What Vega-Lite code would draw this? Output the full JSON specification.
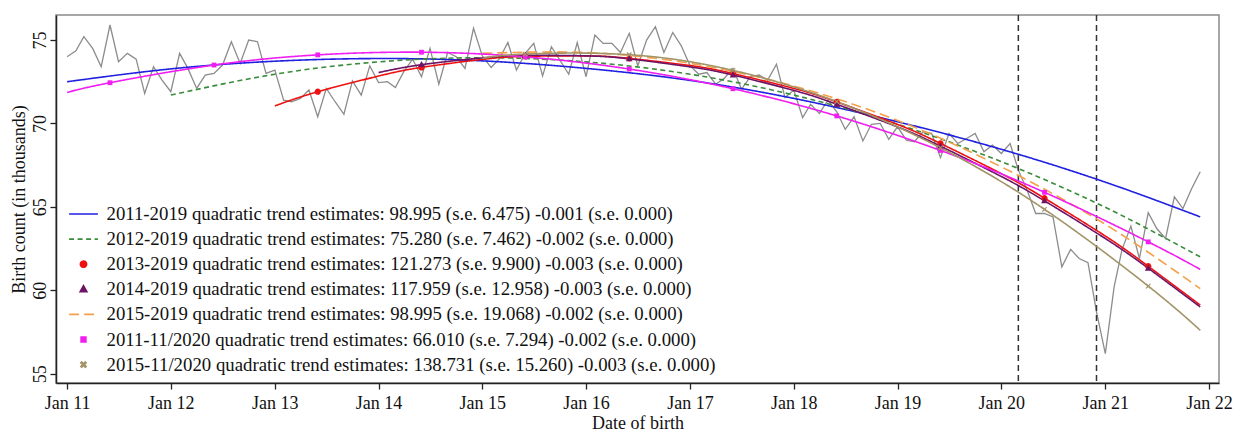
{
  "$schema": "https://vega.github.io/schema/vega-lite/v6.json",
  "width": 1163,
  "height": 368,
  "autosize": {"type": "none"},
  "padding": {"left": 56, "top": 15, "right": 17, "bottom": 48},
  "background": "white",
  "config": {
    "font": "Liberation Serif",
    "view": {"stroke": "#8a8a8a", "strokeWidth": 1.5},
    "axis": {
      "labelFont": "Liberation Serif", "titleFont": "Liberation Serif",
      "labelFontSize": 18, "titleFontSize": 18, "titleFontWeight": "normal",
      "labelColor": "#111", "titleColor": "#111",
      "domainColor": "#222", "tickColor": "#222", "domainWidth": 1.5, "tickWidth": 1.3,
      "tickSize": 6, "grid": false
    },
    "legend": {
      "labelFont": "Liberation Serif", "labelFontSize": 18.8, "labelColor": "#111",
      "labelLimit": 2000, "symbolSize": 576, "symbolStrokeWidth": 1.6,
      "rowPadding": 2.1, "labelOffset": 10, "padding": 0
    }
  },
  "datasets": {
    "births": [
      {"d":"2011/01/01","v":74.0},{"d":"2011/02/01","v":74.35},{"d":"2011/03/01","v":75.2},{"d":"2011/04/01","v":74.5},{"d":"2011/05/01","v":73.4},{"d":"2011/06/01","v":75.9},{"d":"2011/07/01","v":73.7},{"d":"2011/08/01","v":74.2},{"d":"2011/09/01","v":73.85},{"d":"2011/10/01","v":71.8},{"d":"2011/11/01","v":73.4},{"d":"2011/12/01","v":72.6},
      {"d":"2012/01/01","v":71.9},{"d":"2012/02/01","v":74.2},{"d":"2012/03/01","v":73.3},{"d":"2012/04/01","v":72.1},{"d":"2012/05/01","v":72.9},{"d":"2012/06/01","v":73.0},{"d":"2012/07/01","v":73.5},{"d":"2012/08/01","v":74.9},{"d":"2012/09/01","v":73.6},{"d":"2012/10/01","v":75.0},{"d":"2012/11/01","v":74.9},{"d":"2012/12/01","v":73.0},
      {"d":"2013/01/01","v":73.2},{"d":"2013/02/01","v":71.4},{"d":"2013/03/01","v":71.3},{"d":"2013/04/01","v":71.5},{"d":"2013/05/01","v":72.0},{"d":"2013/06/01","v":70.4},{"d":"2013/07/01","v":72.1},{"d":"2013/08/01","v":71.3},{"d":"2013/09/01","v":70.55},{"d":"2013/10/01","v":72.55},{"d":"2013/11/01","v":71.7},{"d":"2013/12/01","v":73.45},
      {"d":"2014/01/01","v":72.45},{"d":"2014/02/01","v":72.5},{"d":"2014/03/01","v":72.15},{"d":"2014/04/01","v":73.15},{"d":"2014/05/01","v":73.85},{"d":"2014/06/01","v":72.8},{"d":"2014/07/01","v":74.5},{"d":"2014/08/01","v":72.35},{"d":"2014/09/01","v":74.25},{"d":"2014/10/01","v":74.0},{"d":"2014/11/01","v":73.3},{"d":"2014/12/01","v":75.7},
      {"d":"2015/01/01","v":74.05},{"d":"2015/02/01","v":73.35},{"d":"2015/03/01","v":73.85},{"d":"2015/04/01","v":74.85},{"d":"2015/05/01","v":73.2},{"d":"2015/06/01","v":74.2},{"d":"2015/07/01","v":74.8},{"d":"2015/08/01","v":72.85},{"d":"2015/09/01","v":74.6},{"d":"2015/10/01","v":73.8},{"d":"2015/11/01","v":72.95},{"d":"2015/12/01","v":74.85},
      {"d":"2016/01/01","v":72.8},{"d":"2016/02/01","v":75.3},{"d":"2016/03/01","v":74.8},{"d":"2016/04/01","v":74.8},{"d":"2016/05/01","v":74.25},{"d":"2016/06/01","v":75.4},{"d":"2016/07/01","v":73.45},{"d":"2016/08/01","v":75.0},{"d":"2016/09/01","v":75.8},{"d":"2016/10/01","v":74.25},{"d":"2016/11/01","v":75.45},{"d":"2016/12/01","v":74.65},
      {"d":"2017/01/01","v":73.45},{"d":"2017/02/01","v":72.95},{"d":"2017/03/01","v":73.05},{"d":"2017/04/01","v":72.35},{"d":"2017/05/01","v":72.7},{"d":"2017/06/01","v":73.3},{"d":"2017/07/01","v":72.05},{"d":"2017/08/01","v":72.8},{"d":"2017/09/01","v":72.9},{"d":"2017/10/01","v":72.6},{"d":"2017/11/01","v":73.55},{"d":"2017/12/01","v":71.55},
      {"d":"2018/01/01","v":72.0},{"d":"2018/02/01","v":70.35},{"d":"2018/03/01","v":71.15},{"d":"2018/04/01","v":70.6},{"d":"2018/05/01","v":71.4},{"d":"2018/06/01","v":70.7},{"d":"2018/07/01","v":69.65},{"d":"2018/08/01","v":70.4},{"d":"2018/09/01","v":68.95},{"d":"2018/10/01","v":69.95},{"d":"2018/11/01","v":70.0},{"d":"2018/12/01","v":69.05},
      {"d":"2019/01/01","v":69.8},{"d":"2019/02/01","v":69.0},{"d":"2019/03/01","v":68.9},{"d":"2019/04/01","v":69.5},{"d":"2019/05/01","v":69.4},{"d":"2019/06/01","v":67.95},{"d":"2019/07/01","v":69.4},{"d":"2019/08/01","v":68.8},{"d":"2019/09/01","v":69.1},{"d":"2019/10/01","v":69.4},{"d":"2019/11/01","v":68.3},{"d":"2019/12/01","v":68.7},
      {"d":"2020/01/01","v":68.2},{"d":"2020/02/01","v":68.8},{"d":"2020/03/01","v":67.2},{"d":"2020/04/01","v":66.0},{"d":"2020/05/01","v":64.6},{"d":"2020/06/01","v":64.6},{"d":"2020/07/01","v":64.4},{"d":"2020/08/01","v":61.4},{"d":"2020/09/01","v":62.45},{"d":"2020/10/01","v":61.9},{"d":"2020/11/01","v":61.65},{"d":"2020/12/01","v":58.7},
      {"d":"2021/01/01","v":56.2},{"d":"2021/02/01","v":60.2},{"d":"2021/03/01","v":62.45},{"d":"2021/04/01","v":63.85},{"d":"2021/05/01","v":61.9},{"d":"2021/06/01","v":64.65},{"d":"2021/07/01","v":63.7},{"d":"2021/08/01","v":63.1},{"d":"2021/09/01","v":65.6},{"d":"2021/10/01","v":64.9},{"d":"2021/11/01","v":66.1},{"d":"2021/12/01","v":67.1}
    ],
    "events": [{"d":"2020/03/01"},{"d":"2020/12/01"}],
    "trend": [
      {"s":"s1","d":"2011/01/01","v":72.5},{"s":"s1","d":"2012/01/01","v":73.27},{"s":"s1","d":"2013/01/01","v":73.73},{"s":"s1","d":"2014/01/01","v":73.89},{"s":"s1","d":"2015/01/01","v":73.75},{"s":"s1","d":"2016/01/01","v":73.3},{"s":"s1","d":"2017/01/01","v":72.58},{"s":"s1","d":"2018/01/01","v":71.5},{"s":"s1","d":"2019/01/01","v":70.1},{"s":"s1","d":"2020/01/01","v":68.45},{"s":"s1","d":"2021/01/01","v":66.48},{"s":"s1","d":"2021/12/01","v":64.4},
      {"s":"s2","d":"2012/01/01","v":71.7},{"s":"s2","d":"2013/01/01","v":72.95},{"s":"s2","d":"2014/01/01","v":73.69},{"s":"s2","d":"2015/01/01","v":73.94},{"s":"s2","d":"2016/01/01","v":73.69},{"s":"s2","d":"2017/01/01","v":72.95},{"s":"s2","d":"2018/01/01","v":71.7},{"s":"s2","d":"2019/01/01","v":69.95},{"s":"s2","d":"2020/01/01","v":67.71},{"s":"s2","d":"2021/01/01","v":64.97},{"s":"s2","d":"2021/12/01","v":62.0},
      {"s":"s3","d":"2013/01/01","v":71.05},{"s":"s3","d":"2013/06/01","v":71.9},{"s":"s3","d":"2014/01/01","v":72.84},{"s":"s3","d":"2014/06/01","v":73.36},{"s":"s3","d":"2015/01/01","v":73.84},{"s":"s3","d":"2015/06/01","v":74.02},{"s":"s3","d":"2016/01/01","v":74.05},{"s":"s3","d":"2016/06/01","v":73.9},{"s":"s3","d":"2017/01/01","v":73.47},{"s":"s3","d":"2017/06/01","v":72.99},{"s":"s3","d":"2018/01/01","v":72.1},{"s":"s3","d":"2018/06/01","v":71.29},{"s":"s3","d":"2019/01/01","v":69.94},{"s":"s3","d":"2019/06/01","v":68.8},{"s":"s3","d":"2020/01/01","v":66.99},{"s":"s3","d":"2020/06/01","v":65.52},{"s":"s3","d":"2021/01/01","v":63.25},{"s":"s3","d":"2021/06/01","v":61.44},{"s":"s3","d":"2021/12/01","v":59.11},
      {"s":"s4","d":"2014/01/01","v":73.05},{"s":"s4","d":"2014/06/01","v":73.52},{"s":"s4","d":"2015/01/01","v":73.93},{"s":"s4","d":"2015/06/01","v":74.08},{"s":"s4","d":"2016/01/01","v":74.05},{"s":"s4","d":"2016/06/01","v":73.87},{"s":"s4","d":"2017/01/01","v":73.39},{"s":"s4","d":"2017/06/01","v":72.9},{"s":"s4","d":"2018/01/01","v":71.98},{"s":"s4","d":"2018/06/01","v":71.15},{"s":"s4","d":"2019/01/01","v":69.79},{"s":"s4","d":"2019/06/01","v":68.64},{"s":"s4","d":"2020/01/01","v":66.82},{"s":"s4","d":"2020/06/01","v":65.36},{"s":"s4","d":"2021/01/01","v":63.1},{"s":"s4","d":"2021/06/01","v":61.32},{"s":"s4","d":"2021/12/01","v":59.0},
      {"s":"s5","d":"2015/01/01","v":74.2},{"s":"s5","d":"2016/01/01","v":74.25},{"s":"s5","d":"2017/01/01","v":73.6},{"s":"s5","d":"2018/01/01","v":72.24},{"s":"s5","d":"2019/01/01","v":70.18},{"s":"s5","d":"2020/01/01","v":67.4},{"s":"s5","d":"2021/01/01","v":63.95},{"s":"s5","d":"2021/12/01","v":60.1},
      {"s":"s6","d":"2011/01/01","v":71.86},{"s":"s6","d":"2011/06/01","v":72.44},{"s":"s6","d":"2012/06/01","v":73.5},{"s":"s6","d":"2013/06/01","v":74.11},{"s":"s6","d":"2014/06/01","v":74.27},{"s":"s6","d":"2015/06/01","v":73.99},{"s":"s6","d":"2016/06/01","v":73.26},{"s":"s6","d":"2017/06/01","v":72.08},{"s":"s6","d":"2018/06/01","v":70.45},{"s":"s6","d":"2019/06/01","v":68.38},{"s":"s6","d":"2020/06/01","v":65.87},{"s":"s6","d":"2021/06/01","v":62.9},{"s":"s6","d":"2021/12/01","v":61.25},
      {"s":"s7","d":"2015/01/01","v":73.9},{"s":"s7","d":"2015/06/01","v":74.16},{"s":"s7","d":"2016/06/01","v":74.12},{"s":"s7","d":"2017/06/01","v":73.18},{"s":"s7","d":"2018/06/01","v":71.31},{"s":"s7","d":"2019/06/01","v":68.54},{"s":"s7","d":"2020/06/01","v":64.85},{"s":"s7","d":"2021/06/01","v":60.25},{"s":"s7","d":"2021/12/01","v":57.6}
    ]
  },
  "layer": [
    {
      "data": {"name": "births"},
      "mark": {"type": "line", "color": "#8c8c8c", "strokeWidth": 1.3},
      "encoding": {
        "x": {
          "field": "d", "type": "temporal",
          "scale": {"domain": [{"year": 2010, "month": 11, "date": 23}, {"year": 2022, "month": 2, "date": 5}], "nice": false},
          "axis": {"title": "Date of birth", "format": "%b %y", "tickCount": {"interval": "year", "step": 1}, "labelPadding": 5, "titlePadding": 2, "labelFlush": false, "labelOverlap": false}
        },
        "y": {
          "field": "v", "type": "quantitative",
          "scale": {"domain": [54.44, 76.5], "nice": false, "zero": false},
          "axis": {"title": "Birth count (in thousands)", "values": [55, 60, 65, 70, 75], "labelAngle": -90, "labelAlign": "center", "labelBaseline": "bottom", "labelPadding": 1, "titlePadding": 3}
        }
      }
    },
    {
      "data": {"name": "events"},
      "mark": {"type": "rule", "strokeDash": [6, 4], "color": "#333333", "strokeWidth": 1.5},
      "encoding": {
        "x": {"field": "d", "type": "temporal", "scale": {"domain": [{"year": 2010, "month": 11, "date": 23}, {"year": 2022, "month": 2, "date": 5}], "nice": false}}
      }
    },
    {
      "data": {"name": "trend"},
      "mark": {"type": "line", "interpolate": "natural", "strokeWidth": 1.6},
      "encoding": {
        "x": {"field": "d", "type": "temporal", "scale": {"domain": [{"year": 2010, "month": 11, "date": 23}, {"year": 2022, "month": 2, "date": 5}], "nice": false}},
        "y": {"field": "v", "type": "quantitative", "scale": {"domain": [54.44, 76.5], "nice": false, "zero": false}},
        "color": {
          "field": "s", "type": "nominal",
          "scale": {"domain": ["s1","s2","s3","s4","s5","s6","s7"], "range": ["#2020e0","#3a8c3a","#ee1111","#6e1466","#f4a04a","#f01ef0","#a39468"]},
          "legend": {
            "title": null, "orient": "none", "legendX": 14.5, "legendY": 186,
            "labelExpr": "datum.value == 's1' ? '2011-2019 quadratic trend estimates: 98.995 (s.e. 6.475) -0.001 (s.e. 0.000)' : datum.value == 's2' ? '2012-2019 quadratic trend estimates: 75.280 (s.e. 7.462) -0.002 (s.e. 0.000)' : datum.value == 's3' ? '2013-2019 quadratic trend estimates: 121.273 (s.e. 9.900) -0.003 (s.e. 0.000)' : datum.value == 's4' ? '2014-2019 quadratic trend estimates: 117.959 (s.e. 12.958) -0.003 (s.e. 0.000)' : datum.value == 's5' ? '2015-2019 quadratic trend estimates: 98.995 (s.e. 19.068) -0.002 (s.e. 0.000)' : datum.value == 's6' ? '2011-11/2020 quadratic trend estimates: 66.010 (s.e. 7.294) -0.002 (s.e. 0.000)' : '2015-11/2020 quadratic trend estimates: 138.731 (s.e. 15.260) -0.003 (s.e. 0.000)'",
            "encode": {"symbols": {"update": {"fill": {"scale": "color", "field": "value"}, "stroke": {"scale": "color", "field": "value"}}}}
          }
        },
        "strokeDash": {
          "field": "s", "type": "nominal",
          "scale": {"domain": ["s1","s2","s3","s4","s5","s6","s7"], "range": [[1,0],[5,3.5],[1,0],[1,0],[10,5],[1,0],[1,0]]},
          "legend": {
            "title": null, "orient": "none", "legendX": 14.5, "legendY": 186,
            "labelExpr": "datum.value == 's1' ? '2011-2019 quadratic trend estimates: 98.995 (s.e. 6.475) -0.001 (s.e. 0.000)' : datum.value == 's2' ? '2012-2019 quadratic trend estimates: 75.280 (s.e. 7.462) -0.002 (s.e. 0.000)' : datum.value == 's3' ? '2013-2019 quadratic trend estimates: 121.273 (s.e. 9.900) -0.003 (s.e. 0.000)' : datum.value == 's4' ? '2014-2019 quadratic trend estimates: 117.959 (s.e. 12.958) -0.003 (s.e. 0.000)' : datum.value == 's5' ? '2015-2019 quadratic trend estimates: 98.995 (s.e. 19.068) -0.002 (s.e. 0.000)' : datum.value == 's6' ? '2011-11/2020 quadratic trend estimates: 66.010 (s.e. 7.294) -0.002 (s.e. 0.000)' : '2015-11/2020 quadratic trend estimates: 138.731 (s.e. 15.260) -0.003 (s.e. 0.000)'"
          }
        }
      }
    },
    {
      "data": {"name": "trend"},
      "transform": [{"filter": "indexof(['s3','s4','s6','s7'], datum.s) >= 0 && month(toDate(datum.d)) == 5"}],
      "mark": {"type": "point", "filled": true, "opacity": 1, "size": 576},
      "encoding": {
        "x": {"field": "d", "type": "temporal", "scale": {"domain": [{"year": 2010, "month": 11, "date": 23}, {"year": 2022, "month": 2, "date": 5}], "nice": false}},
        "y": {"field": "v", "type": "quantitative", "scale": {"domain": [54.44, 76.5], "nice": false, "zero": false}},
        "color": {"field": "s", "type": "nominal", "scale": {"domain": ["s1","s2","s3","s4","s5","s6","s7"], "range": ["#2020e0","#3a8c3a","#ee1111","#6e1466","#f4a04a","#f01ef0","#a39468"]}},
        "shape": {
          "field": "s", "type": "nominal",
          "scale": {"domain": ["s1","s2","s3","s4","s5","s6","s7"], "range": [
            "M-1.2,0H1.2", "M-1.2,0H1.2",
            "M-0.26,0A0.26,0.26,0,1,1,0.26,0A0.26,0.26,0,1,1,-0.26,0Z",
            "M0,-0.3L0.28,0.2L-0.28,0.2Z",
            "M-1.2,0H1.2",
            "M-0.2,-0.2H0.2V0.2H-0.2Z",
            "M-0.22,-0.15L-0.15,-0.22L0,-0.07L0.15,-0.22L0.22,-0.15L0.07,0L0.22,0.15L0.15,0.22L0,0.07L-0.15,0.22L-0.22,0.15L-0.07,0Z"
          ]},
          "legend": {
            "title": null, "orient": "none", "legendX": 14.5, "legendY": 186,
            "labelExpr": "datum.value == 's1' ? '2011-2019 quadratic trend estimates: 98.995 (s.e. 6.475) -0.001 (s.e. 0.000)' : datum.value == 's2' ? '2012-2019 quadratic trend estimates: 75.280 (s.e. 7.462) -0.002 (s.e. 0.000)' : datum.value == 's3' ? '2013-2019 quadratic trend estimates: 121.273 (s.e. 9.900) -0.003 (s.e. 0.000)' : datum.value == 's4' ? '2014-2019 quadratic trend estimates: 117.959 (s.e. 12.958) -0.003 (s.e. 0.000)' : datum.value == 's5' ? '2015-2019 quadratic trend estimates: 98.995 (s.e. 19.068) -0.002 (s.e. 0.000)' : datum.value == 's6' ? '2011-11/2020 quadratic trend estimates: 66.010 (s.e. 7.294) -0.002 (s.e. 0.000)' : '2015-11/2020 quadratic trend estimates: 138.731 (s.e. 15.260) -0.003 (s.e. 0.000)'"
          }
        }
      }
    }
  ]
}
